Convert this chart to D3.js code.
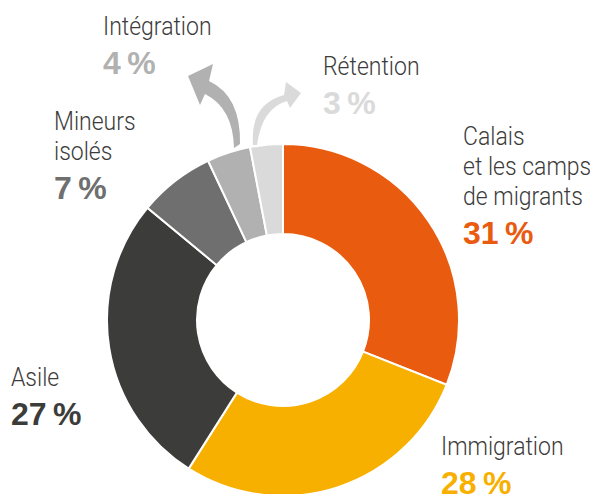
<!DOCTYPE html>
<html>
<head>
<meta charset="utf-8">
<script src="https://cdn.jsdelivr.net/npm/d3@7"></script>
<style>
  html, body { margin: 0; padding: 0; background: #fff; }
  .label { font-family: Roboto, "Liberation Sans", sans-serif; font-weight: 300; font-size: 25px; fill: #3c3c3b; }
  .pct { font-family: "Liberation Sans", "DejaVu Sans", sans-serif; font-weight: bold; font-size: 32px; }
</style>
</head>
<body>
<div class="container"></div>
<script>
// chart data
const categories = ['Calais\net les camps\nde migrants', 'Immigration', 'Asile', 'Mineurs\nisolés', 'Intégration', 'Rétention'];
const values = [31, 28, 27, 7, 4, 3];
const colors = ['#e95b0f', '#f8b000', '#3c3c3b', '#6f6f6f', '#b1b1b1', '#dadada'];

// label anchors (x, baseline of first line)
const labelPos = [
  [463, 145],
  [441, 455],
  [11, 386],
  [54, 130],
  [103, 35],
  [323, 75]
];

const width = 590;
const height = 494;
const cx = 283;
const cy = 320;
const outerR = 176;
const innerR = 86;

const svg = d3.select('.container')
  .append('svg')
  .attr('width', width)
  .attr('height', height);

const data = categories.map((c, i) => ({ name: c, value: values[i], color: colors[i], pos: labelPos[i] }));

const pie = d3.pie()
  .sort(null)
  .value(d => d.value);

const arc = d3.arc()
  .innerRadius(innerR)
  .outerRadius(outerR);

// Donut slices
svg.append('g')
  .attr('transform', `translate(${cx}, ${cy})`)
  .selectAll('path')
  .data(pie(data))
  .enter()
  .append('path')
  .attr('d', arc)
  .attr('fill', d => d.data.color)
  .attr('stroke', '#fff')
  .attr('stroke-width', 2);

// Curved arrows for the two small slices
svg.append('path')
  .attr('d', 'M234,148 Q233,108 205,94 L200,105 L188,76 L213,64 L209,81 Q241,96 240,144 Z')
  .attr('fill', colors[4]);

svg.append('path')
  .attr('d', 'M253,145 Q250,104 284,95 L286,82 L301,93 L290,108 L287,101 Q262,108 257,145 Z')
  .attr('fill', colors[5]);

// Labels
const lineH = 30;
const labels = svg.append('g');

data.forEach(d => {
  const lines = d.name.split('\n');
  const t = labels.append('text')
    .attr('class', 'label')
    .attr('transform', `translate(${d.pos[0]}, ${d.pos[1]}) scale(0.92, 1)`);
  lines.forEach((l, i) => {
    t.append('tspan')
      .attr('x', 0)
      .attr('dy', i === 0 ? 0 : lineH)
      .text(l);
  });
  labels.append('text')
    .attr('class', 'pct')
    .attr('x', d.pos[0])
    .attr('y', d.pos[1] + (lines.length - 1) * lineH + 39)
    .attr('fill', d.color)
    .attr('letter-spacing', 1)
    .text(d.value + '\u202f%');
});
</script>
</body>
</html>
